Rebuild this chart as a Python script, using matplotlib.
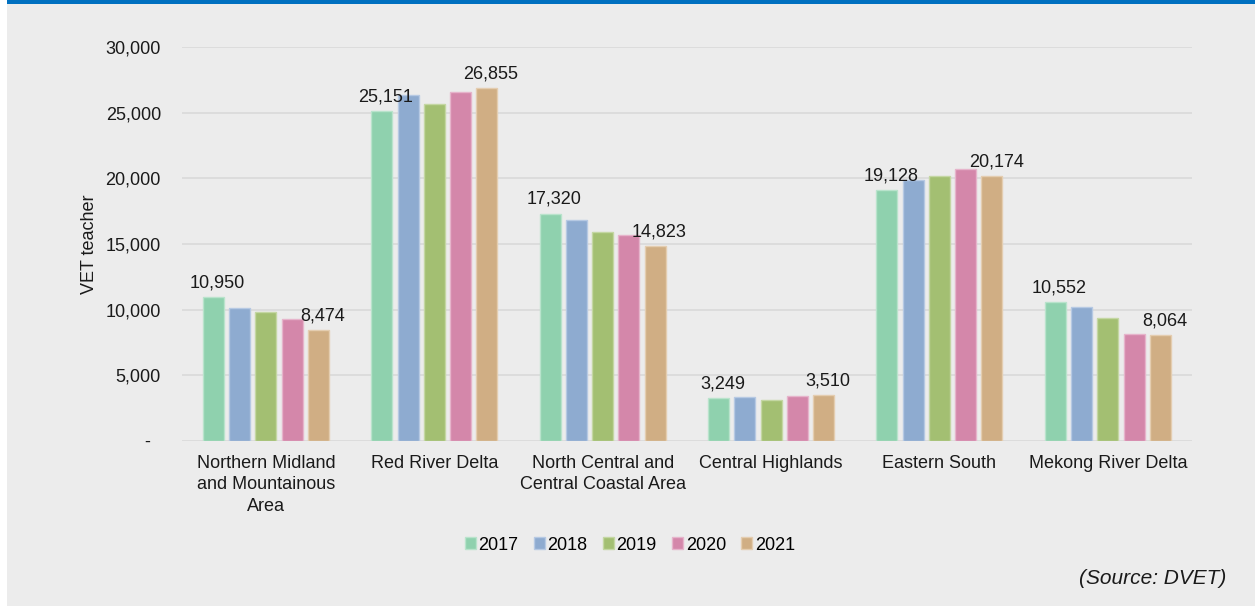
import numpy as np
import matplotlib
matplotlib.use("Agg")
import matplotlib.pyplot as plt
from matplotlib.patches import Rectangle

plt.rcParams["font.family"] = ["Liberation Sans", "DejaVu Sans"]

regions = [
    "Northern Midland\nand Mountainous\nArea",
    "Red River Delta",
    "North Central and\nCentral Coastal Area",
    "Central Highlands",
    "Eastern South",
    "Mekong River Delta",
]
years = ["2017", "2018", "2019", "2020", "2021"]

# VET teachers per region, one list per year
v2017 = [10950, 25151, 17320, 3249, 19128, 10552]
v2018 = [10100, 26370, 16800, 3380, 19850, 10240]
v2019 = [9800, 25690, 15950, 3120, 20160, 9400]
v2020 = [9270, 26550, 15700, 3440, 20690, 8150]
v2021 = [8474, 26855, 14823, 3510, 20174, 8064]
series = [v2017, v2018, v2019, v2020, v2021]

colors = ["#8fd1ae", "#8eabd0", "#a3bf72", "#d487aa", "#d0ae84"]
edges = ["#b9e3cc", "#b6c9e3", "#c4d7a3", "#e6b4cb", "#e4cdb0"]
FS = 13

fig = plt.figure(figsize=(12.55, 6.06), dpi=100)
fig.patch.set_facecolor("white")
fig.add_artist(Rectangle((7 / 1255, 0), 1, 1, transform=fig.transFigure,
                         facecolor="#ececec", edgecolor="none", zorder=-10))
fig.add_artist(Rectangle((7 / 1255, 1 - 4 / 606), 1, 4 / 606, transform=fig.transFigure,
                         facecolor="#0070c0", edgecolor="none", zorder=-9))

ax = fig.add_axes([0.1448, 0.2723, 0.8050, 0.6501])
ax.set_facecolor("none")

x = np.arange(len(regions))
step = 0.156
width = 0.125
for i, (vals, c, ec) in enumerate(zip(series, colors, edges)):
    pos = x + (i - 2) * step
    ax.bar(pos, vals, width=width, color=c, edgecolor=ec, linewidth=1.0,
           label=years[i], zorder=3)
    # only first and last year get value labels
    if i in (0, 4):
        for px, v in zip(pos, vals):
            ax.annotate(f"{v:,}", (px, v), xytext=(3, 4), textcoords="offset points",
                        ha="center", va="bottom", fontsize=FS, color="#1a1a1a", zorder=5)

ax.set_xlim(-0.5, len(regions) - 0.5)
ax.set_ylim(0, 30000)
ax.set_yticks(np.arange(0, 30001, 5000))
ax.set_yticklabels(["-  "] + [f"{t:,}" for t in range(5000, 30001, 5000)])
ax.set_xticks(x)
ax.set_xticklabels(regions, linespacing=1.35)
ax.tick_params(axis="both", length=0, labelsize=FS, colors="#1a1a1a")
ax.tick_params(axis="y", pad=15)
ax.tick_params(axis="x", pad=10)
ax.grid(True, axis="y", color="#d9d9d9", linewidth=1.2, zorder=0)
for s in ax.spines.values():
    s.set_visible(False)

ax.set_ylabel("VET teacher", fontsize=FS, color="#1a1a1a")
ax.yaxis.set_label_coords(-0.083, 0.5)

ax.legend(loc="center", bbox_to_anchor=(630 / 1255, 1 - 545 / 606),
          bbox_transform=fig.transFigure, ncol=5, frameon=False, fontsize=FS,
          handlelength=0.6, handleheight=0.6, handletextpad=0.15, columnspacing=0.85)

fig.text(1226 / 1255, 1 - 578 / 606, "(Source: DVET)", ha="right", va="center",
         fontsize=15, style="italic", color="#1a1a1a")

fig.savefig("out.png", dpi=100, facecolor=fig.get_facecolor())
